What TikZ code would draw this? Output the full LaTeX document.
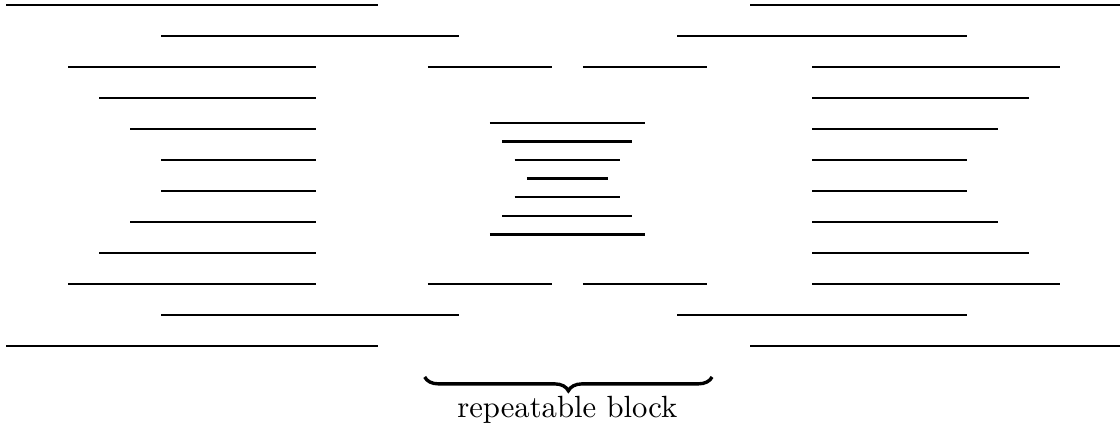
\documentclass[tikz,border=0pt]{standalone}
\usetikzlibrary{decorations.pathreplacing}
\begin{document}
\begin{tikzpicture}[x=0.355cm, y=0.355cm, line width=0.75pt]
\useasboundingbox (-0.2,0.16) rectangle (35.93,-13.61);
% --- outer plates ---
\foreach \k in {0,11} {
  \draw (0,-\k) -- (12,-\k);
  \draw (24,-\k) -- (36,-\k);
}
\foreach \k in {1,10} {
  \draw (5,-\k) -- (14.6,-\k);
  \draw (21.65,-\k) -- (31,-\k);
}
% --- side stacks ---
\foreach \k/\a in {2/2,3/3,4/4,5/5,6/5,7/4,8/3,9/2} {
  \draw (\a,-\k) -- (10,-\k);
  \draw (26,-\k) -- (36-\a,-\k);
}
% --- repeatable block ---
\foreach \k in {2,9} {
  \draw (13.6,-\k) -- (17.6,-\k);
  \draw (18.6,-\k) -- (22.6,-\k);
}
\foreach \i/\w in {0/2.5,1/2.1,2/1.7,3/1.3,4/1.7,5/2.1,6/2.5}
  \draw (18.1-\w,-3.8-0.6*\i) -- (18.1+\w,-3.8-0.6*\i);
\draw[decorate, decoration={brace, mirror, amplitude=4.5pt}, line width=1.1pt] (13.5,-12.0) -- (22.77,-12.0);
\node (lbl) at (18.1,-13.06) {repeatable block};
\end{tikzpicture}
\end{document}
